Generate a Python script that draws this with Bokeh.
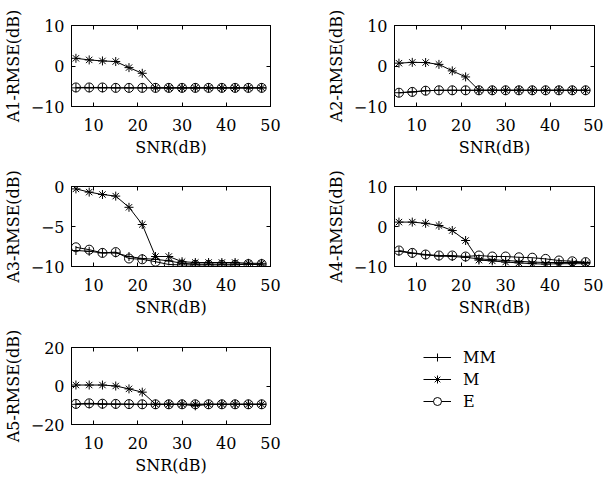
from bokeh.plotting import figure
from bokeh.models import Range1d, FixedTicker, LinearAxis, Legend, LegendItem
from bokeh.layouts import column, row
from bokeh.embed import file_html
from bokeh.resources import INLINE

FONT = "DejaVu Serif"

snr = [6, 9, 12, 15, 18, 21, 24, 27, 30, 33, 36, 39, 42, 45, 48]
x_ticks = [10, 20, 30, 40, 50]

# A1
mm1 = [-5.4, -5.4, -5.4, -5.4, -5.4, -5.4, -5.4, -5.4, -5.4, -5.4, -5.4, -5.4, -5.4, -5.4, -5.4]
m1 = [1.9, 1.5, 1.25, 1.1, -0.4, -1.8, -5.4, -5.4, -5.4, -5.4, -5.4, -5.4, -5.4, -5.4, -5.4]
e1 = [-5.3, -5.3, -5.3, -5.4, -5.4, -5.4, -5.4, -5.4, -5.4, -5.4, -5.4, -5.4, -5.4, -5.4, -5.4]
# A2
mm2 = [-6.6, -6.4, -6.1, -6.0, -6.0, -6.0, -6.0, -6.0, -6.0, -6.0, -6.0, -6.0, -6.0, -6.0, -6.0]
m2 = [0.7, 0.9, 0.85, 0.4, -1.2, -2.7, -6.0, -6.0, -6.0, -6.0, -6.0, -6.0, -6.0, -6.0, -6.0]
e2 = [-6.6, -6.4, -6.1, -6.0, -6.0, -6.0, -6.0, -6.0, -6.0, -6.0, -6.0, -6.0, -6.0, -6.0, -6.0]
# A3
mm3 = [-8.0, -8.1, -8.3, -8.3, -8.75, -9.0, -9.1, -9.3, -9.6, -9.7, -9.7, -9.7, -9.7, -9.7, -9.8]
m3 = [-0.3, -0.7, -1.0, -1.2, -2.6, -4.75, -8.75, -8.75, -9.4, -9.5, -9.5, -9.5, -9.5, -9.6, -9.6]
e3 = [-7.6, -7.9, -8.3, -8.2, -9.0, -9.1, -9.4, -9.75, -9.8, -9.8, -9.8, -9.8, -9.8, -9.7, -9.7]
# A4
mm4 = [-6.2, -6.7, -7.1, -7.4, -7.5, -7.7, -8.1, -8.3, -8.5, -8.7, -8.9, -9.0, -9.0, -9.0, -9.0]
m4 = [1.1, 1.1, 0.8, 0.25, -1.0, -3.5, -8.4, -8.6, -8.9, -9.1, -9.3, -9.4, -9.3, -9.3, -9.3]
e4 = [-6.0, -6.6, -7.0, -7.25, -7.25, -7.5, -7.25, -7.5, -7.5, -7.7, -7.8, -8.1, -8.5, -8.7, -8.9]
# A5
mm5 = [-9.5, -9.3, -9.5, -9.5, -9.5, -9.5, -9.5, -9.5, -9.5, -10.3, -9.5, -9.5, -9.5, -9.5, -9.5]
m5 = [0.5, 0.5, 0.5, 0.0, -1.5, -3.2, -9.5, -9.5, -9.5, -9.5, -9.5, -9.5, -9.5, -9.5, -9.5]
e5 = [-9.3, -9.0, -9.2, -9.3, -9.4, -9.5, -9.5, -9.5, -9.5, -9.5, -9.5, -9.5, -9.5, -9.5, -9.5]

series_names = ["MM", "M", "E"]
minus_labels = {-20: "\u221220", -10: "\u221210", -5: "\u22125"}


def style_axis(ax, ticks, standoff, label_standoff, show_labels=True):
    ax.ticker = FixedTicker(ticks=ticks)
    ax.major_tick_in = 4
    ax.major_tick_out = 0
    ax.minor_tick_in = 0
    ax.minor_tick_out = 0
    ax.axis_line_color = "black"
    ax.major_tick_line_color = "black"
    ax.major_label_text_font = FONT
    ax.axis_label_text_font = FONT
    ax.axis_label_text_font_style = "normal"
    ax.axis_label_text_color = "black"
    ax.axis_label_text_font_size = "16px"
    if show_labels:
        ax.major_label_text_color = "black"
        ax.major_label_text_font_size = "16px"
        ax.major_label_standoff = standoff
        ax.axis_label_standoff = label_standoff
        ax.major_label_overrides = minus_labels
    else:
        ax.major_label_text_color = None
        ax.major_label_text_font_size = "0px"
        ax.major_label_standoff = 0
        ax.axis_label_standoff = 0


def make_panel(ylabel, yr, yticks, mm, m, e, width, height, bl, br, bt, bb):
    p = figure(width=width, height=height, output_backend="svg", toolbar_location=None,
               x_range=Range1d(5, 50), y_range=Range1d(yr[0], yr[1]),
               min_border_left=bl, min_border_right=br,
               min_border_top=bt, min_border_bottom=bb)
    p.grid.visible = False
    p.outline_line_color = "black"
    p.outline_line_width = 1
    p.background_fill_color = "white"
    p.border_fill_color = "white"

    xb = p.xaxis[0]
    yl = p.yaxis[0]
    style_axis(xb, x_ticks, 12, 4)
    style_axis(yl, yticks, 7, 5)
    xb.axis_label = "SNR(dB)"
    yl.axis_label = ylabel

    top = LinearAxis()
    style_axis(top, x_ticks, 0, 0, show_labels=False)
    p.add_layout(top, "above")
    right = LinearAxis()
    style_axis(right, yticks, 0, 0, show_labels=False)
    p.add_layout(right, "right")

    p.line(snr, mm, line_color="black", line_width=1)
    p.scatter(snr, mm, marker="cross", size=9, line_color="black", line_width=1)
    p.line(snr, m, line_color="black", line_width=1)
    p.scatter(snr, m, marker="asterisk", size=9, line_color="black", line_width=1)
    p.line(snr, e, line_color="black", line_width=1)
    p.scatter(snr, e, marker="circle", size=9, line_color="black", fill_color=None, line_width=1)
    return p


p1 = make_panel("A1-RMSE(dB)", (-10, 10), [-10, 0, 10], mm1, m1, e1, 300, 170, 70, 30, 25, 64)
p2 = make_panel("A2-RMSE(dB)", (-10, 10), [-10, 0, 10], mm2, m2, e2, 303, 170, 94, 9, 25, 64)
p3 = make_panel("A3-RMSE(dB)", (-10, 0), [-10, -5, 0], mm3, m3, e3, 300, 158, 70, 30, 16, 62)
p4 = make_panel("A4-RMSE(dB)", (-10, 10), [-10, 0, 10], mm4, m4, e4, 303, 158, 94, 9, 16, 62)
p5 = make_panel("A5-RMSE(dB)", (-20, 20), [-20, 0, 20], mm5, m5, e5, 300, 150, 70, 30, 15, 54)

# legend panel (its ranges sit away from the data, so only the legend shows)
p6 = figure(width=303, height=150, output_backend="svg", toolbar_location=None,
            x_axis_location=None, y_axis_location=None,
            min_border_left=123, min_border_top=19, min_border_right=0, min_border_bottom=0,
            x_range=Range1d(100, 101), y_range=Range1d(100, 101))
p6.grid.visible = False
p6.outline_line_color = None
p6.background_fill_color = "white"
p6.border_fill_color = "white"
r_mm_l = p6.line(snr, mm1, line_color="black", line_width=1)
r_mm_s = p6.scatter(snr, mm1, marker="cross", size=11, line_color="black")
r_m_l = p6.line(snr, m1, line_color="black", line_width=1)
r_m_s = p6.scatter(snr, m1, marker="asterisk", size=10, line_color="black")
r_e_l = p6.line(snr, e1, line_color="black", line_width=1)
r_e_s = p6.scatter(snr, e1, marker="circle", size=9, line_color="black", fill_color="white")
legend = Legend(items=[
    LegendItem(label=series_names[0], renderers=[r_mm_l, r_mm_s]),
    LegendItem(label=series_names[1], renderers=[r_m_l, r_m_s]),
    LegendItem(label=series_names[2], renderers=[r_e_l, r_e_s]),
], location="top_left", padding=0, margin=0, border_line_color=None,
    background_fill_alpha=0, glyph_width=28, glyph_height=20, label_standoff=12,
    spacing=2, label_text_font=FONT, label_text_font_size="16px", label_text_color="black")
p6.add_layout(legend)

layout = column(row(p1, p2), row(p3, p4), row(p5, p6))

open("out.html", "w").write(file_html(layout, INLINE))
